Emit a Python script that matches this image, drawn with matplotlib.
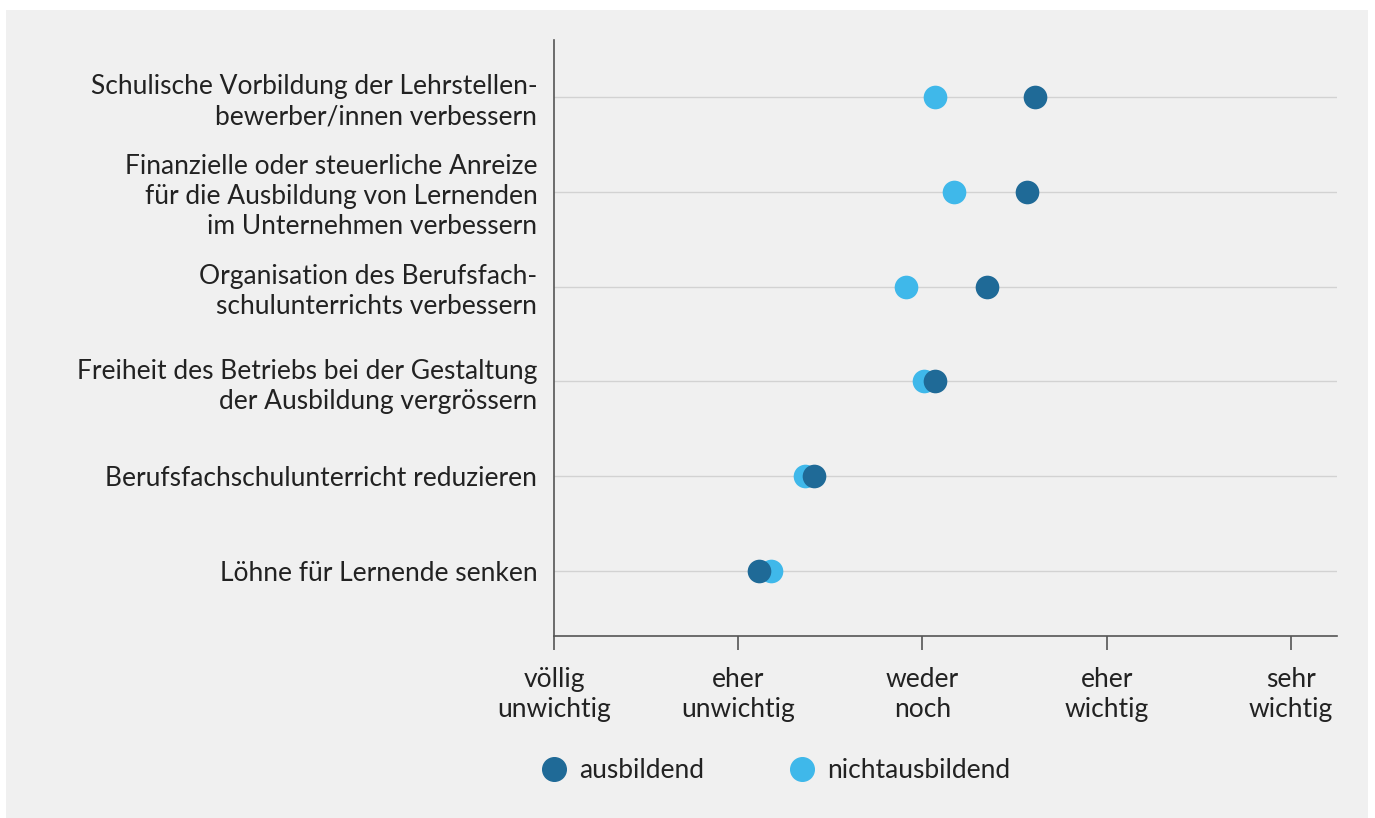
import numpy as np
import matplotlib.pyplot as plt
from matplotlib.patches import Rectangle
from matplotlib.lines import Line2D

# Daten
massnahmen = [
    "Schulische Vorbildung der Lehrstellen-\nbewerber/innen verbessern",
    "Finanzielle oder steuerliche Anreize\nfür die Ausbildung von Lernenden\nim Unternehmen verbessern",
    "Organisation des Berufsfach-\nschulunterrichts verbessern",
    "Freiheit des Betriebs bei der Gestaltung\nder Ausbildung vergrössern",
    "Berufsfachschulunterricht reduzieren",
    "Löhne für Lernende senken",
]
ausbildend = [3.61, 3.57, 3.35, 3.07, 2.41, 2.11]
nichtausbildend = [3.07, 3.17, 2.91, 3.01, 2.36, 2.18]
skala = ["völlig\nunwichtig", "eher\nunwichtig", "weder\nnoch", "eher\nwichtig", "sehr\nwichtig"]

c_dunkel = "#1f6a97"
c_hell = "#3fb8ea"
bg = "#f0f0f0"
fs = 19

plt.rcParams["font.family"] = ["Lato", "DejaVu Sans"]

fig = plt.figure(figsize=(13.75, 8.18), dpi=100)
fig.patch.set_facecolor("white")
fig.patches.append(Rectangle((6 / 1375, 0), 1362 / 1375, 808 / 818,
                             transform=fig.transFigure, facecolor=bg,
                             edgecolor="none", zorder=-10))

ax = fig.add_axes([554 / 1375, 1 - 636 / 818, 783 / 1375, 596 / 818])
ax.set_facecolor(bg)
ax.patch.set_alpha(0)

y = np.arange(len(massnahmen))[::-1]
for yy in y:
    ax.axhline(yy, color="#d2d2d2", lw=1, zorder=1)
ax.scatter(nichtausbildend, y, s=290, color=c_hell, zorder=3, linewidths=0)
ax.scatter(ausbildend, y, s=290, color=c_dunkel, zorder=4, linewidths=0)

ax.set_xlim(1, 5.25)
ax.set_ylim(-0.686, 5.6)
ax.set_xticks([1, 2, 3, 4, 5])
ax.set_xticklabels(skala, fontsize=fs, color="#222222", linespacing=1.25)
ax.set_yticks(y)
ax.set_yticklabels(massnahmen, fontsize=fs, color="#222222", linespacing=1.25)
ax.tick_params(axis="y", length=0, pad=12)
ax.tick_params(axis="x", length=10, width=1.2, color="#555555", pad=12)
for s in ["top", "right"]:
    ax.spines[s].set_visible(False)
for s in ["left", "bottom"]:
    ax.spines[s].set_color("#555555")
    ax.spines[s].set_linewidth(1.2)

handles = [
    Line2D([], [], marker="o", ls="none", markersize=17, color=c_dunkel, label="ausbildend"),
    Line2D([], [], marker="o", ls="none", markersize=17, color=c_hell, label="nichtausbildend"),
]
fig.legend(handles=handles, loc="center", bbox_to_anchor=(774 / 1375, 1 - 771 / 818),
           ncol=2, frameon=False, fontsize=fs, handletextpad=0.35, columnspacing=3.1,
           handlelength=1.2, labelcolor="#222222")

fig.savefig("out.png", dpi=100, facecolor="white")
